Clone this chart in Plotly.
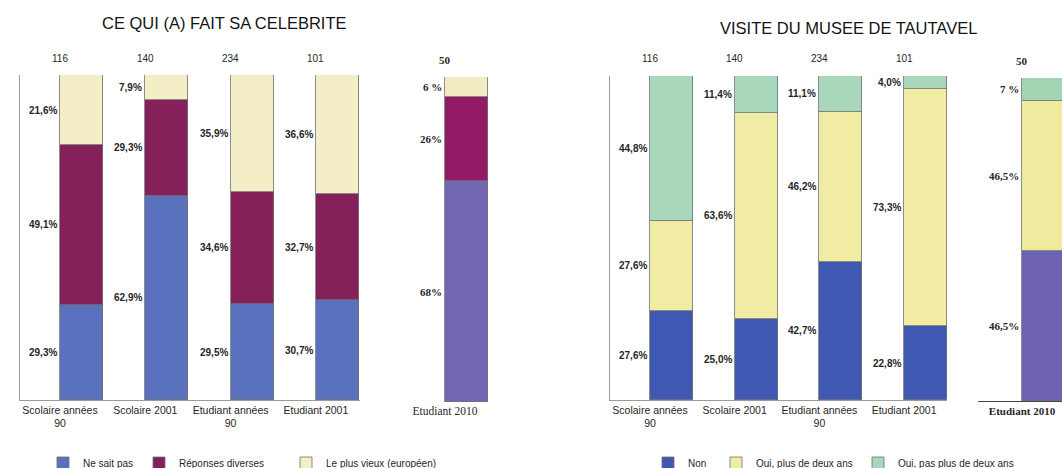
import plotly.graph_objects as go

W, H = 1062, 468

# ---------------- data ----------------
categories = ["Scolaire années<br>90", "Scolaire 2001", "Etudiant années<br>90", "Etudiant 2001"]
category_2010 = "Etudiant 2010"

# Left chart: CE QUI (A) FAIT SA CELEBRITE
left_counts = [116, 140, 234, 101]
left_count_2010 = 50
ne_sait_pas = [29.3, 62.9, 29.5, 30.7]
reponses_diverses = [49.1, 29.3, 34.6, 32.7]
plus_vieux = [21.6, 7.9, 35.9, 36.6]
left_2010 = [68, 26, 6]  # Ne sait pas, Réponses diverses, Le plus vieux
left_2010_labels = ["68%", "26%", "6 %"]

# Right chart: VISITE DU MUSEE DE TAUTAVEL
right_counts = [116, 140, 234, 101]
right_count_2010 = 50
non = [27.6, 25.0, 42.7, 22.8]
oui_plus_deux = [27.6, 63.6, 46.2, 73.3]
oui_pas_plus_deux = [44.8, 11.4, 11.1, 4.0]
right_2010 = [46.5, 46.5, 7]
right_2010_labels = ["46,5%", "46,5%", "7 %"]

left_names = ["Ne sait pas", "Réponses diverses", "Le plus vieux (européen)"]
right_names = ["Non", "Oui, plus de deux ans", "Oui, pas plus de deux ans"]

# ---------------- styles ----------------
SANS = "Liberation Sans, Arial, sans-serif"
SERIF = "Liberation Serif, Times New Roman, serif"
TXT = "#262626"
left_colors = ["#5a72bd", "#86205a", "#f4eec6"]
left_colors_2010 = ["#7367b4", "#931b66", "#f3ecc2"]
right_colors = ["#3f58b2", "#f0eca4", "#a8d7bb"]
right_colors_2010 = ["#6e62b2", "#f0ea9e", "#a2d4b3"]
EDGE = "#707070"

# legend anchor x positions (px) for each legend entry
left_legend_px = [43, 139, 286]
right_legend_px = [648, 716, 858]
LEGEND_Y_PX = 463


def fx(p):
    return p / W


def fy(p):
    return 1 - p / H


def pct(v):
    return f"{v:.1f}".replace(".", ",") + "%"


fig = go.Figure()
annotations = []

BAR_PX = 43
panels = {
    # name: (xaxis id, x domain px, first category px (bar left edge), unit px, y top px, y bottom px)
    "L": ("x", (20, 360), 60, 85.3, 75, 400),
    "L10": ("x2", (418, 500), 445, 86, 77, 402),
    "R": ("x3", (610, 947), 650, 84.7, 76, 400),
    "R10": ("x4", (978, 1062), 1022, 86, 78, 401),
}


def axis_ref(name):
    a = panels[name][0]
    return a, a.replace("x", "y")


def legend_id(i):
    return "legend" if i == 1 else f"legend{i}"


def add_stack(name, series, names, colors, legends, showlegend, xs):
    xa, ya = axis_ref(name)
    width = BAR_PX / panels[name][3]
    for s, n, c, lg in zip(series, names, colors, legends):
        fig.add_trace(go.Bar(
            x=xs, y=s, name=n, xaxis=xa, yaxis=ya, width=width, offset=0,
            marker=dict(color=c, line=dict(color=EDGE, width=0.8)),
            showlegend=showlegend, legend=lg, hoverinfo="skip",
        ))


def add_labels(name, xs, series, labels, font_family, size, bold=False):
    xa, ya = axis_ref(name)
    for j, x in enumerate(xs):
        base = 0
        for k, s in enumerate(series):
            v = s[j]
            mid = base + v / 2
            base += v
            t = labels[k][j]
            annotations.append(dict(
                x=x, y=mid, xref=xa, yref=ya, text=f"<b>{t}</b>" if bold else t,
                showarrow=False, xanchor="right", yanchor="middle", xshift=-1,
                font=dict(family=font_family, size=size, color=TXT),
            ))


def add_counts(name, xs, counts, font_family, size, bold=False):
    xa, ya = axis_ref(name)
    for x, c in zip(xs, counts):
        annotations.append(dict(
            x=x, y=100, xref=xa, yref=ya, text=f"<b>{c}</b>" if bold else str(c),
            showarrow=False, xanchor="center", yanchor="middle", yshift=17,
            font=dict(family=font_family, size=size, color=TXT),
        ))


xs_main = list(range(len(categories)))
left_legends = [legend_id(i) for i in (1, 2, 3)]
right_legends = [legend_id(i) for i in (4, 5, 6)]

# Left main
left_series = [ne_sait_pas, reponses_diverses, plus_vieux]
add_stack("L", left_series, left_names, left_colors, left_legends, True, xs_main)
add_labels("L", xs_main, left_series, [[pct(v) for v in s] for s in left_series], SANS, 10, bold=True)
add_counts("L", xs_main, left_counts, SANS, 10)

# Left 2010
l10_series = [[v] for v in left_2010]
add_stack("L10", l10_series, left_names, left_colors_2010, left_legends, False, [0])
add_labels("L10", [0], l10_series, [[t] for t in left_2010_labels], SERIF, 11, bold=True)
add_counts("L10", [0], [left_count_2010], SERIF, 11, bold=True)

# Right main
right_series = [non, oui_plus_deux, oui_pas_plus_deux]
add_stack("R", right_series, right_names, right_colors, right_legends, True, xs_main)
add_labels("R", xs_main, right_series, [[pct(v) for v in s] for s in right_series], SANS, 10, bold=True)
add_counts("R", xs_main, right_counts, SANS, 10)

# Right 2010
r10_series = [[v] for v in right_2010]
add_stack("R10", r10_series, right_names, right_colors_2010, right_legends, False, [0])
add_labels("R10", [0], r10_series, [[t] for t in right_2010_labels], SERIF, 11, bold=True)
add_counts("R10", [0], [right_count_2010], SERIF, 11, bold=True)

# ---------------- axes ----------------
layout_axes = {}
for name, (xa, (d0, d1), c, u, ytop, ybot) in panels.items():
    ya = xa.replace("x", "y")
    lo = -(c - d0) / u
    hi = lo + (d1 - d0) / u
    is2010 = name.endswith("10")
    xkey = "xaxis" if xa == "x" else "xaxis" + xa[1:]
    ykey = "yaxis" if ya == "y" else "yaxis" + ya[1:]
    if is2010:
        tickvals = [0]
        ticktext = [f"<b>{category_2010}</b>" if name == "R10" else category_2010]
        tfont = dict(family=SERIF, size=11.5 if name == "L10" else 11, color=TXT)
    else:
        tickvals, ticktext = xs_main, categories
        tfont = dict(family=SANS, size=10.5, color=TXT)
    layout_axes[xkey] = dict(
        domain=[fx(d0), fx(d1)], range=[lo, hi], anchor=ya,
        tickvals=tickvals, ticktext=ticktext, tickfont=tfont, ticks="",
        ticklabeloverflow="allow",
        showgrid=False, zeroline=False, fixedrange=True,
        showline=(name != "L10"), linecolor="#444" if name == "R10" else "#9a9a9a",
        linewidth=1.2 if name == "R10" else 1,
    )
    layout_axes[ykey] = dict(
        domain=[fy(ybot), fy(ytop)], range=[0, 100], anchor=xa,
        showticklabels=False, showgrid=False, zeroline=False, ticks="",
        showline=not is2010, linecolor="#9a9a9a", linewidth=1, fixedrange=True,
    )

# titles
annotations.append(dict(
    x=fx(224), y=fy(23), xref="paper", yref="paper", text="CE QUI (A) FAIT SA CELEBRITE",
    showarrow=False, xanchor="center", yanchor="middle",
    font=dict(family=SANS, size=16.5, color="#141414"),
))
annotations.append(dict(
    x=fx(848), y=fy(28), xref="paper", yref="paper", text="VISITE DU MUSEE DE TAUTAVEL",
    showarrow=False, xanchor="center", yanchor="middle",
    font=dict(family=SANS, size=16.5, color="#141414"),
))

legends = {}
for i, px in enumerate(left_legend_px + right_legend_px, start=1):
    legends[legend_id(i)] = dict(
        orientation="h", x=fx(px), y=fy(LEGEND_Y_PX), xanchor="left", yanchor="middle",
        font=dict(family=SANS, size=10, color=TXT), bgcolor="rgba(0,0,0,0)",
        itemclick=False, itemdoubleclick=False,
    )

fig.update_layout(
    width=W, height=H, margin=dict(l=0, r=0, t=0, b=0, pad=0, autoexpand=False),
    paper_bgcolor="white", plot_bgcolor="rgba(0,0,0,0)",
    barmode="stack", bargap=0,
    annotations=annotations,
    **legends,
    **layout_axes,
)

fig.write_html("out.html", config={"displayModeBar": False})
